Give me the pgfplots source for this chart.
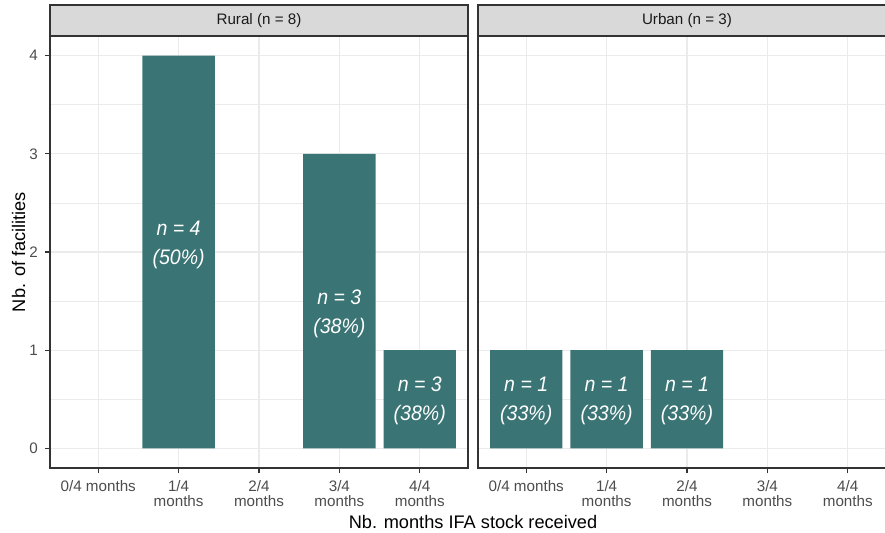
\documentclass[border=0pt]{standalone}
\usepackage{pgfplots}
\pgfplotsset{compat=1.18}
\usepackage{fontspec}
\setmainfont{Liberation Sans}
\newfontfamily\condfont[FakeStretch=0.93]{Liberation Sans}
\definecolor{barc}{RGB}{58,116,116}
\definecolor{gridc}{RGB}{235,235,235}
\definecolor{g20}{RGB}{51,51,51}
\definecolor{g30}{RGB}{77,77,77}
\definecolor{g10}{RGB}{26,26,26}
\definecolor{stripc}{RGB}{217,217,217}
\pgfplotsset{
  facet/.style={
    scale only axis, width=209pt, height=216pt, anchor=south west,
    xmin=0.4, xmax=5.6, ymin=-0.2, ymax=4.2,
    xtick={1,...,5}, ytick={0,...,4}, minor ytick={0.5,1.5,2.5,3.5},
    grid=both,
    major grid style={gridc, line width=0.55pt},
    minor grid style={gridc, line width=0.3pt},
    axis line style={g20, line width=0.55pt},
    tick style={g20, line width=0.55pt},
    tick align=outside, major tick length=2.5pt, minor tick length=0pt,
    xtick pos=left, ytick pos=left,
    ticklabel style={font=\fontsize{7.6}{7.6}\selectfont, text=g30},
    xticklabel style={align=center},
    xticklabels={0/4 months, {1/4\\months}, {2/4\\months}, {3/4\\months}, {4/4\\months}},
    /pgf/number format/assume math mode=true,
    ybar, bar width=0.9,
    clip=false,
  },
}
\tikzset{
  lab/.style={text=white, align=center, font=\condfont\itshape\fontsize{10.5}{14.5}\selectfont},
  strip/.style={fill=stripc, draw=g20, line width=0.55pt},
  striptext/.style={text=g10, font=\fontsize{7.6}{9}\selectfont},
}
\begin{document}
\begin{tikzpicture}
\begin{axis}[facet, at={(25pt,32pt)},
  ylabel={Nb. of facilities},
  ylabel style={at={(axis description cs:0,0.5)}, anchor=center, yshift=15.75pt, font=\fontsize{9.1}{10}\selectfont, text=black}]
\addplot[fill=barc, draw=none] coordinates {(2,4) (4,3) (5,1)};
\node[lab] at (axis cs:2,2.07) {n = 4\\(50\%)};
\node[lab] at (axis cs:4,1.37) {n = 3\\(38\%)};
\node[lab] at (axis cs:5,0.48) {n = 3\\(38\%)};
\draw[strip] (rel axis cs:0,1) rectangle ([yshift=15.5pt]rel axis cs:1,1);
\node[striptext] at ([yshift=7.75pt]rel axis cs:0.5,1) {Rural (n = 8)};
\end{axis}
\begin{axis}[facet, at={(239pt,32pt)}, yticklabels={}, ytick style={draw=none}]
\addplot[fill=barc, draw=none] coordinates {(1,1) (2,1) (3,1)};
\node[lab] at (axis cs:1,0.48) {n = 1\\(33\%)};
\node[lab] at (axis cs:2,0.48) {n = 1\\(33\%)};
\node[lab] at (axis cs:3,0.48) {n = 1\\(33\%)};
\draw[strip] (rel axis cs:0,1) rectangle ([yshift=15.5pt]rel axis cs:1,1);
\node[striptext] at ([yshift=7.75pt]rel axis cs:0.5,1) {Urban (n = 3)};
\end{axis}
\node[anchor=base, font=\fontsize{9.1}{10}\selectfont] at (236.5pt,2pt) {Nb. months IFA stock received};
\pgfresetboundingbox
\path (0,0) rectangle (442.5pt,266pt);
\end{tikzpicture}
\end{document}
